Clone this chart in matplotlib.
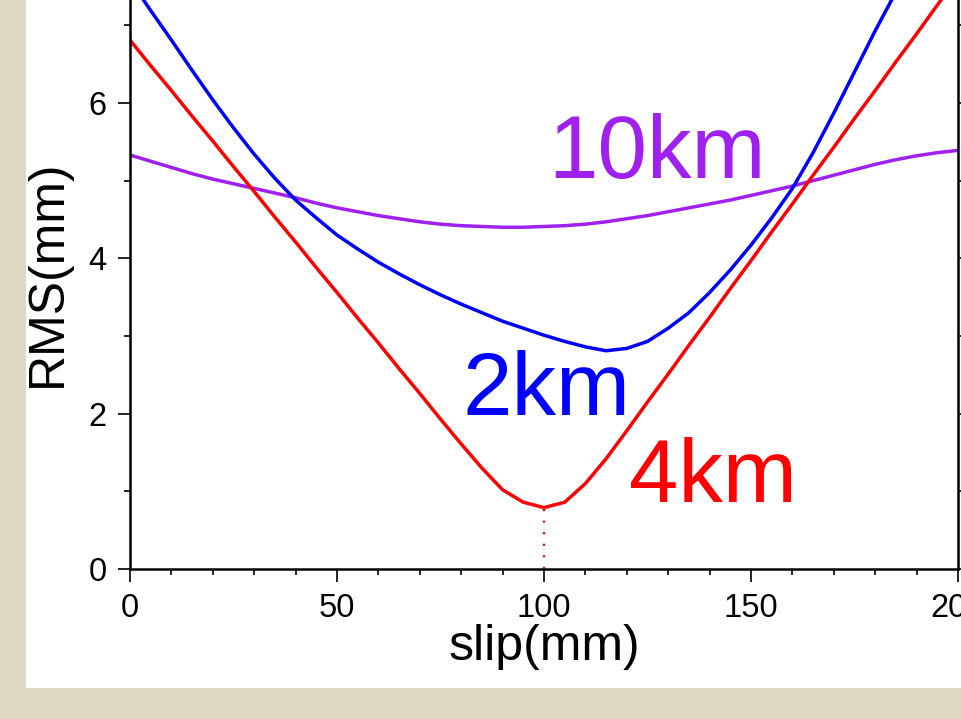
import matplotlib
matplotlib.use("Agg")
import matplotlib.pyplot as plt
from matplotlib.patches import Rectangle
from matplotlib.ticker import MultipleLocator

plt.rcParams['font.family'] = ['Liberation Sans', 'DejaVu Sans']

slip = [0, 5, 10, 15, 20, 25, 30, 35, 40, 45, 50, 55, 60, 65, 70, 75, 80, 85, 90, 95,
        100, 105, 110, 115, 120, 125, 130, 135, 140, 145, 150, 155, 160, 165, 170, 175,
        180, 185, 190, 195, 200]

rms_4km = [6.81, 6.48, 6.16, 5.83, 5.51, 5.18, 4.86, 4.53, 4.21, 3.88, 3.56, 3.23, 2.91,
           2.58, 2.26, 1.93, 1.61, 1.30, 1.02, 0.86, 0.79, 0.86, 1.10, 1.42, 1.78, 2.15,
           2.51, 2.88, 3.24, 3.61, 3.97, 4.34, 4.70, 5.07, 5.43, 5.80, 6.16, 6.53, 6.89,
           7.26, 7.62]

rms_2km = [7.58, 7.19, 6.81, 6.42, 6.04, 5.68, 5.34, 5.03, 4.75, 4.52, 4.30, 4.12, 3.95,
           3.80, 3.66, 3.53, 3.41, 3.30, 3.19, 3.10, 3.01, 2.93, 2.86, 2.81, 2.84, 2.93,
           3.10, 3.30, 3.56, 3.85, 4.17, 4.52, 4.90, 5.36, 5.87, 6.40, 6.93, 7.43, 7.93,
           8.43, 8.93]

rms_10km = [5.33, 5.25, 5.17, 5.09, 5.02, 4.96, 4.90, 4.84, 4.78, 4.71, 4.65, 4.60, 4.55,
            4.51, 4.47, 4.44, 4.42, 4.41, 4.40, 4.40, 4.41, 4.42, 4.44, 4.47, 4.51, 4.55,
            4.60, 4.65, 4.70, 4.75, 4.81, 4.87, 4.93, 5.00, 5.07, 5.14, 5.21, 5.27, 5.32,
            5.36, 5.39]

best_slip = 100
best_rms = 0.79

RED = '#ff0000'
BLUE = '#0000ff'
PURPLE = '#a020f0'

W, H = 961, 719
fig = plt.figure(figsize=(W / 100, H / 100), dpi=100)
fig.patch.set_facecolor('#ddd8c4')
bg = Rectangle((26 / W, (H - 688) / H), (W - 26) / W, 688 / H,
               transform=fig.transFigure, facecolor='white',
               edgecolor='none', zorder=-10)
fig.patches.append(bg)

ax = fig.add_axes([130 / W, (H - 569) / H, (958 - 130) / W, 569 / H])
ax.set_zorder(5)
ax.set_facecolor('none')

ax.plot(slip, rms_10km, color=PURPLE, lw=2.5)
ax.plot(slip, rms_2km, color=BLUE, lw=2.5)
ax.plot(slip, rms_4km, color=RED, lw=2.5)
ax.plot([best_slip, best_slip], [0, best_rms], color=RED, lw=1.6,
        linestyle=(0, (1, 4.2)))

ax.set_xlim(0, 200)
ax.set_ylim(0, 569 / 77.67)

ax.spines['top'].set_visible(False)
for s in ('left', 'bottom', 'right'):
    ax.spines[s].set_linewidth(1.8)

ax.xaxis.set_major_locator(MultipleLocator(50))
ax.xaxis.set_minor_locator(MultipleLocator(10))
ax.yaxis.set_major_locator(MultipleLocator(2))
ax.yaxis.set_minor_locator(MultipleLocator(1))
ax.tick_params(which='both', direction='out', width=1.2, right=True, top=False)
ax.tick_params(which='major', length=9, labelsize=23.5, pad=8)
ax.tick_params(which='minor', length=4.5)
ax.tick_params(axis='y', which='major', labelright=False)

ax.set_xlabel('slip(mm)', fontsize=36, labelpad=0)
ax.set_ylabel('RMS(mm)', fontsize=36)
ax.yaxis.set_label_coords(-0.072, 0.52)

ax.text(127.4, 5.03, '10km', color=PURPLE, fontsize=64, ha='center', va='baseline')
ax.text(100.6, 1.98, '2km', color=BLUE, fontsize=64, ha='center', va='baseline')
ax.text(140.7, 0.86, '4km', color=RED, fontsize=64, ha='center', va='baseline')

fig.savefig('out.png', dpi=100, facecolor=fig.get_facecolor())
